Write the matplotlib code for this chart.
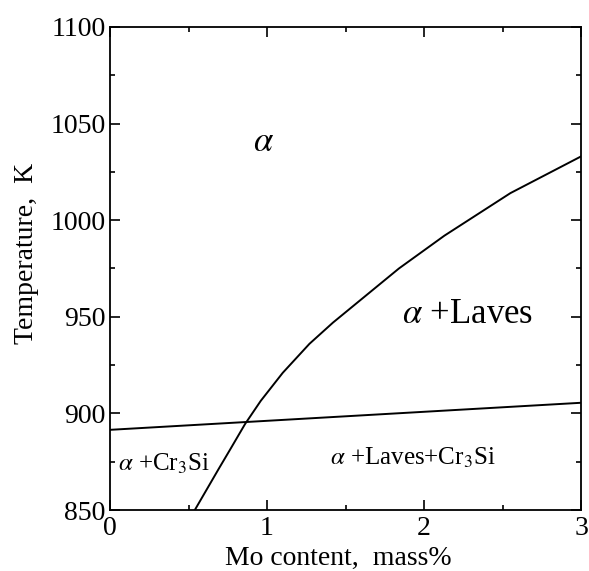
import matplotlib
matplotlib.use("Agg")
import matplotlib.pyplot as plt
from matplotlib.ticker import MultipleLocator

# Laves solvus line (Mo content in mass%, temperature in K)
laves_mo = [0.54, 0.69, 0.77, 0.86, 0.96, 1.1, 1.27, 1.42, 1.63, 1.84, 2.13, 2.55, 3.0]
laves_T = [850, 871, 882, 894.5, 906.5, 921, 936, 947, 961, 975, 992, 1014, 1033]

# Cr3Si solvus line
cr3si_mo = [0, 3]
cr3si_T = [891.5, 905.5]

x_ticks = [0, 1, 2, 3]
y_ticks = [850, 900, 950, 1000, 1050, 1100]

plt.rcParams["font.family"] = ["Liberation Serif", "DejaVu Serif"]
plt.rcParams["mathtext.fontset"] = "stix"

fig = plt.figure(figsize=(5.89, 5.71), dpi=100)
ax = fig.add_axes([0.1868, 0.1068, 0.7997, 0.846])

ax.plot(laves_mo, laves_T, color="black", lw=1.4)
ax.plot(cr3si_mo, cr3si_T, color="black", lw=1.4)

ax.set_xlim(0, 3)
ax.set_ylim(850, 1100)
ax.set_xticks(x_ticks)
ax.set_yticks(y_ticks)
ax.xaxis.set_minor_locator(MultipleLocator(0.5))
ax.yaxis.set_minor_locator(MultipleLocator(25))
ax.tick_params(which="both", direction="in", top=True, right=True, labelsize=20)
ax.tick_params(axis="x", pad=4)
ax.tick_params(axis="y", pad=3)
ax.tick_params(which="major", length=7, width=1.2)
ax.tick_params(which="minor", length=3.5, width=1.2)
for s in ax.spines.values():
    s.set_linewidth(1.3)

ax.set_xlabel("Mo content,  mass%", fontsize=20)
ax.set_ylabel("Temperature,  K", fontsize=20)
ax.xaxis.set_label_coords(0.485, -0.074)
ax.yaxis.set_label_coords(-0.15, 0.532)

# phase field labels
ax.text(0.98, 1040, r"$\alpha$", fontsize=25, ha="center", va="center")
ax.text(2.28, 951, r"$\alpha$ +Laves", fontsize=25, ha="center", va="center")
ax.text(0.34, 874, r"$\alpha$ +Cr$_3$Si", fontsize=18, ha="center", va="center")
ax.text(1.93, 877, r"$\alpha$ +Laves+Cr$_3$Si", fontsize=18, ha="center", va="center")

fig.savefig("out.png", dpi=100)
